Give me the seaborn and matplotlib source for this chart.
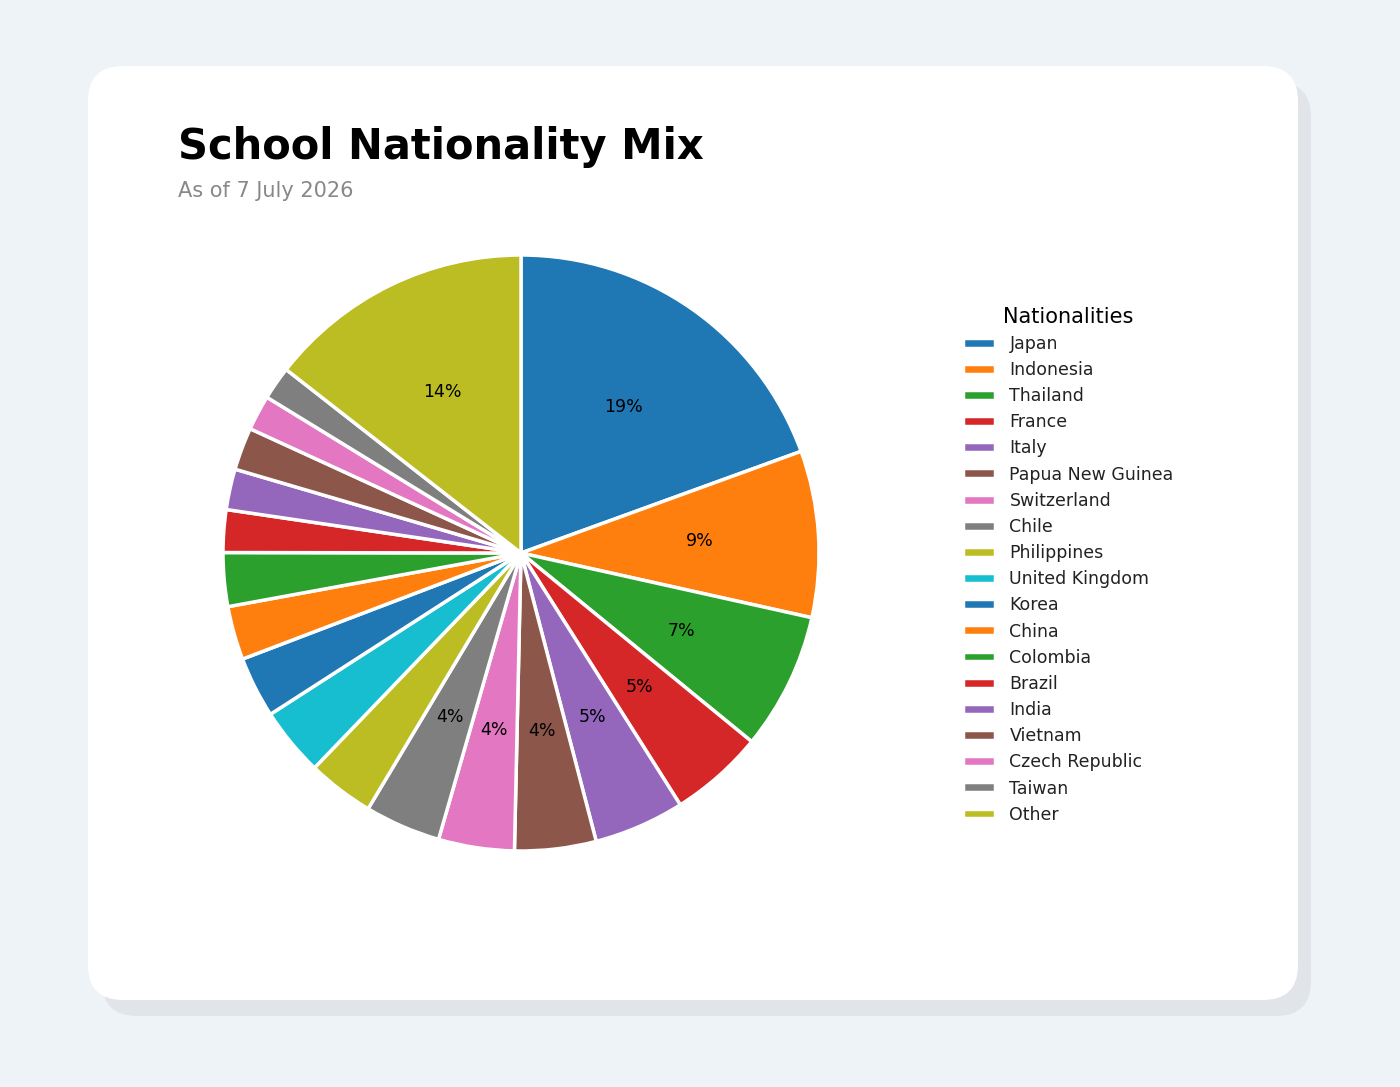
import matplotlib
matplotlib.use("Agg")
import matplotlib.pyplot as plt
import seaborn as sns
from matplotlib.patches import FancyBboxPatch

# data (shares in %)
nationalities = ["Japan", "Indonesia", "Thailand", "France", "Italy",
                 "Papua New Guinea", "Switzerland", "Chile", "Philippines",
                 "United Kingdom", "Korea", "China", "Colombia", "Brazil",
                 "India", "Vietnam", "Czech Republic", "Taiwan", "Other"]
shares = [19.4, 9.0, 7.4, 5.1, 4.9, 4.4, 4.1, 4.1, 3.6, 3.7,
          3.3, 2.9, 2.9, 2.3, 2.2, 2.3, 1.9, 1.8, 14.4]

title = "School Nationality Mix"
subtitle = "As of 7 July 2026"

sns.set_style("white")
plt.rcParams["font.family"] = ["DejaVu Sans"]

W, H = 1400, 1087
fig = plt.figure(figsize=(W / 100, H / 100), dpi=100)
fig.patch.set_facecolor("#eef3f7")

# card + shadow
shadow = FancyBboxPatch((102 / W, 1 - 1016 / H), (1311 - 102) / W, (1016 - 82) / H,
                        boxstyle="round,pad=0,rounding_size=0.025",
                        transform=fig.transFigure, facecolor="#e1e5e9",
                        edgecolor="none", mutation_aspect=W / H, zorder=-3)
card = FancyBboxPatch((88 / W, 1 - 1000 / H), (1298 - 88) / W, (1000 - 66) / H,
                      boxstyle="round,pad=0,rounding_size=0.025",
                      transform=fig.transFigure, facecolor="white",
                      edgecolor="none", mutation_aspect=W / H, zorder=-2)
fig.patches.extend([shadow, card])

fig.text(178 / W, 1 - 147 / H, title, fontsize=30, fontweight="bold",
         va="center", ha="left", color="black")
fig.text(178 / W, 1 - 191 / H, subtitle, fontsize=15, color="#888888",
         va="center", ha="left")

# pie axes: centre (521, 553), radius ~298 px
r = 298
ax = fig.add_axes([(521 - r) / W, 1 - (553 + r) / H, 2 * r / W, 2 * r / H])
ax.patch.set_alpha(0)

colors = sns.color_palette("tab10", 10)
wedge_colors = [colors[i % 10] for i in range(len(shares))]


def pct_label(p):
    return f"{p:.0f}%" if p >= 4 else ""


wedges, texts, autotexts = ax.pie(
    shares, colors=wedge_colors, startangle=90, counterclock=False,
    autopct=pct_label, pctdistance=0.6,
    wedgeprops=dict(edgecolor="white", linewidth=2.5),
    textprops=dict(fontsize=12.5, color="black"))
ax.set_xlim(-1, 1)
ax.set_ylim(-1, 1)
ax.set_aspect("equal")

leg = fig.legend(wedges, nationalities, title="Nationalities",
                 loc="upper left", bbox_to_anchor=(947 / W, 1 - 291 / H),
                 frameon=False, fontsize=12.5, title_fontsize=15,
                 handlelength=1.85, handleheight=0.5, labelspacing=0.47,
                 handletextpad=0.85)
for t in leg.get_texts():
    t.set_color("#222222")
leg.get_title().set_color("black")

fig.savefig("out.png", dpi=100, facecolor=fig.get_facecolor())
